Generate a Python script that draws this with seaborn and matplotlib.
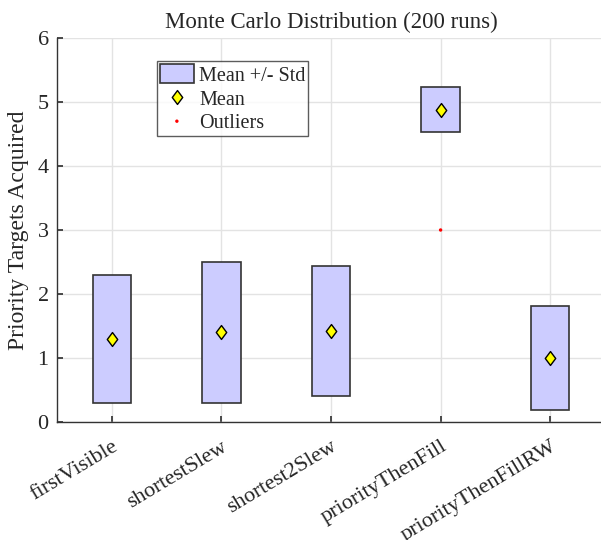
import matplotlib
matplotlib.use("Agg")
import matplotlib.pyplot as plt
from matplotlib.path import Path
import seaborn as sns
import pandas as pd
import numpy as np

categories = ["firstVisible", "shortestSlew", "shortest2Slew", "priorityThenFill", "priorityThenFillRW"]
means = [1.29, 1.40, 1.42, 4.88, 1.00]
stds = [1.00, 1.10, 1.02, 0.35, 0.81]
outlier_cats = ["priorityThenFill"]
outlier_vals = [3.0]

sns.set_theme(style="white")
plt.rcParams['font.family'] = ['Liberation Serif', 'DejaVu Serif']

df = pd.DataFrame({"cat": categories, "mean": means, "std": stds})
df["pos"] = np.arange(1, len(categories) + 1)
df["low"] = df["mean"] - df["std"]
out_df = pd.DataFrame({"cat": outlier_cats, "val": outlier_vals})
out_df["pos"] = [categories.index(c) + 1 for c in outlier_cats]

diamond = Path([(0, 1), (0.75, 0), (0, -1), (-0.75, 0), (0, 1)],
               [Path.MOVETO, Path.LINETO, Path.LINETO, Path.LINETO, Path.CLOSEPOLY])

fig = plt.figure(figsize=(6.01, 5.40), dpi=100)
ax = fig.add_axes([57/601, (540-422)/540, 548/601, 384/540])

ax.bar(df["pos"], 2 * df["std"], bottom=df["low"], width=0.35,
       color="#ccccff", edgecolor="#333333", linewidth=1.2, label="Mean +/- Std", zorder=2)
sns.scatterplot(data=df, x="pos", y="mean", ax=ax, marker=diamond, s=100, color="yellow",
                edgecolor="black", linewidth=1.0, label="Mean", zorder=3)
sns.scatterplot(data=out_df, x="pos", y="val", ax=ax, marker="o", s=6, color="red",
                edgecolor="none", label="Outliers", zorder=3)

ax.set_xlim(0.5, 5.5)
ax.set_ylim(0, 6)
ax.set_xticks(df["pos"])
ax.set_xticklabels(categories, rotation=31, ha="right", rotation_mode="anchor", fontsize=16)
ax.set_yticks(range(0, 7))
ax.tick_params(axis="y", labelsize=16, direction="in", length=4, left=True, color="#333333", pad=6)
ax.tick_params(axis="x", direction="in", length=4, bottom=True, color="#333333", pad=11)
ax.grid(True, color="#e3e3e3", linewidth=1.0)
ax.set_axisbelow(True)
for s in ["top", "right"]:
    ax.spines[s].set_visible(False)
for s in ["left", "bottom"]:
    ax.spines[s].set_color("#333333")
    ax.spines[s].set_linewidth(1.0)
ax.set_xlabel("")
ax.set_ylabel("Priority Targets Acquired", fontsize=17, labelpad=6)
ax.set_title("Monte Carlo Distribution (200 runs)", fontsize=16.5, pad=7)

handles, labels = ax.get_legend_handles_labels()
order = [labels.index(l) for l in ["Mean +/- Std", "Mean", "Outliers"]]
leg = ax.legend([handles[i] for i in order], [labels[i] for i in order],
                loc="upper left", bbox_to_anchor=(0.182, 0.94), fontsize=14.5, frameon=True,
                fancybox=False, edgecolor="#333333", borderpad=0.15, labelspacing=0.12,
                handlelength=1.7, handleheight=1.1, handletextpad=0.25, borderaxespad=0)
leg.get_frame().set_linewidth(1.0)

fig.savefig("out.png", dpi=100)
